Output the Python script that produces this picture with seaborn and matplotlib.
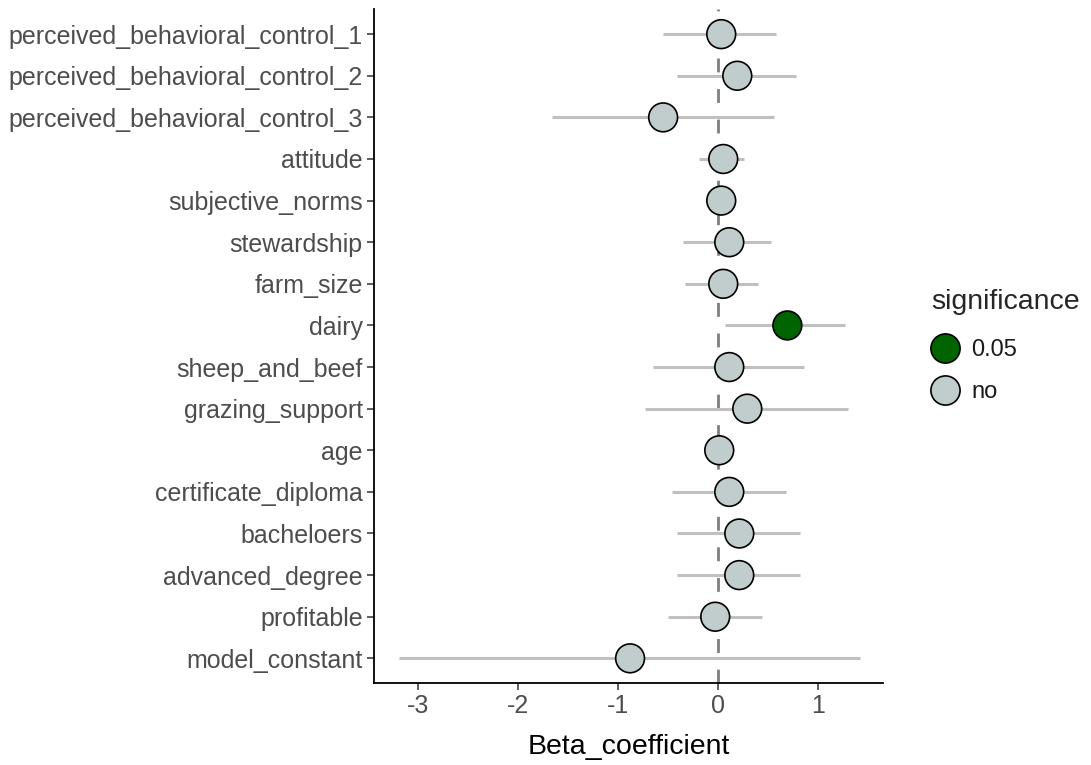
import numpy as np
import pandas as pd
import matplotlib
matplotlib.use("Agg")
import matplotlib.pyplot as plt
from matplotlib.lines import Line2D
import seaborn as sns

# Model terms, top to bottom
terms = [
    "perceived_behavioral_control_1",
    "perceived_behavioral_control_2",
    "perceived_behavioral_control_3",
    "attitude",
    "subjective_norms",
    "stewardship",
    "farm_size",
    "dairy",
    "sheep_and_beef",
    "grazing_support",
    "age",
    "certificate_diploma",
    "bacheloers",
    "advanced_degree",
    "profitable",
    "model_constant",
]

# Beta coefficients and their confidence limits
beta = [0.03, 0.19, -0.55, 0.05, 0.03, 0.11, 0.05, 0.69, 0.11, 0.29,
        0.01, 0.11, 0.21, 0.21, -0.03, -0.88]
ci_low = [-0.55, -0.41, -1.66, -0.19, -0.10, -0.35, -0.33, 0.07, -0.65, -0.73,
          -0.06, -0.465, -0.41, -0.41, -0.505, -3.19]
ci_high = [0.58, 0.78, 0.56, 0.26, 0.16, 0.53, 0.40, 1.27, 0.855, 1.30,
           0.08, 0.675, 0.815, 0.815, 0.44, 1.41]
significance = ["no", "no", "no", "no", "no", "no", "no", "0.05", "no", "no",
                "no", "no", "no", "no", "no", "no"]

sig_levels = ["0.05", "no"]
sig_colors = {"0.05": "#006400", "no": "#C1CDCD"}

df = pd.DataFrame({
    "term": terms,
    "Beta_coefficient": beta,
    "low": ci_low,
    "high": ci_high,
    "significance": significance,
})
df["pos"] = np.arange(len(df))

sns.set_theme(style="ticks")
plt.rcParams["font.family"] = ["Liberation Sans", "DejaVu Sans"]

fig = plt.figure(figsize=(10.91, 7.65), dpi=100)
ax = fig.add_axes([0.3428, 0.1068, 0.4665, 0.8812])

# reference line at zero
ax.axvline(0, color="#7F7F7F", lw=2.0, ls=(0, (5, 6)), zorder=1)

# confidence intervals
ax.hlines(df["pos"], df["low"], df["high"], color="#C0C0C0", lw=2.2, zorder=2)

# point estimates
sns.scatterplot(
    data=df, x="Beta_coefficient", y="pos", hue="significance",
    hue_order=sig_levels, palette=sig_colors, s=430, edgecolor="black",
    linewidth=1.2, legend=False, zorder=3, ax=ax,
)

ax.set_xlim(-3.436, 1.644)
ax.set_ylim(len(terms) - 0.4, -0.6)
ax.set_xticks([-3, -2, -1, 0, 1])
ax.set_xticklabels(["-3", "-2", "-1", "0", "1"])
ax.set_yticks(df["pos"])
ax.set_yticklabels(terms)
ax.set_xlabel("Beta_coefficient", fontsize=20.5, color="black", labelpad=11)
ax.set_ylabel("")

ax.tick_params(axis="both", labelsize=18, labelcolor="#4D4D4D", color="#333333",
               length=5, width=1.1, pad=3)
for side in ["top", "right"]:
    ax.spines[side].set_visible(False)
for side in ["left", "bottom"]:
    ax.spines[side].set_color("black")
    ax.spines[side].set_linewidth(1.3)

handles = [
    Line2D([], [], marker="o", ls="", markersize=21, markerfacecolor=sig_colors[k],
           markeredgecolor="black", markeredgewidth=1.2, label=k)
    for k in sig_levels
]
leg = ax.legend(
    handles=handles, title="significance", loc="center left",
    bbox_to_anchor=(1.076, 0.50), frameon=False, fontsize=17,
    title_fontsize=20.5, handletextpad=0.5, labelspacing=0.85, borderaxespad=0,
    handlelength=1.2,
)
for t in leg.get_texts():
    t.set_color("#1A1A1A")
leg._legend_box.align = "left"
leg._legend_box.sep = 17

fig.savefig("out.png", dpi=100, facecolor="white")
